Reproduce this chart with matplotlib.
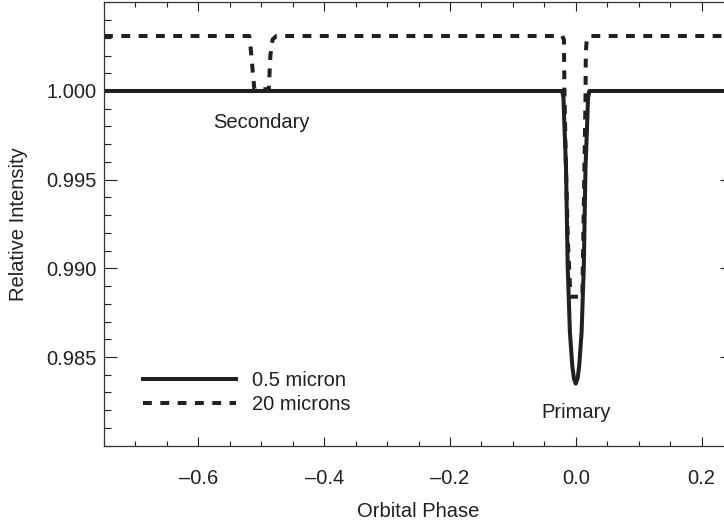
import matplotlib
matplotlib.use("Agg")
import matplotlib.pyplot as plt
from matplotlib.ticker import MultipleLocator, FormatStrFormatter

plt.rcParams['font.family'] = ['Liberation Sans', 'DejaVu Sans']

# ---- data ----
# 0.5 micron light curve (solid)
phase_05 = [-0.75, -0.0215, -0.0195, -0.0185, -0.0155, -0.0128, -0.0093, -0.0055, -0.0030, 0.0,
            0.0030, 0.0055, 0.0093, 0.0128, 0.0155, 0.0185, 0.0195, 0.0215, 0.25]
inten_05 = [1.0000, 1.0000, 0.9996, 0.9985, 0.9957, 0.9901, 0.9864, 0.9845, 0.9838, 0.9835,
            0.9838, 0.9845, 0.9864, 0.9901, 0.9957, 0.9985, 0.9996, 1.0000, 1.0000]

# 20 micron light curve (dashed)
phase_20 = [-0.75, -0.519, -0.5178, -0.511, -0.488, -0.4855, -0.482, -0.476,
            -0.0215, -0.0188, -0.0180, -0.0158, -0.0125, -0.0092, -0.0085,
            0.0105, 0.0112, 0.0135, 0.0155, 0.0160, 0.0175, 0.021, 0.25]
inten_20 = [1.0031, 1.0031, 1.0028, 1.0001, 1.0001, 1.0020, 1.0029, 1.0031,
            1.0031, 1.0029, 1.0000, 0.9960, 0.9915, 0.9890, 0.9884,
            0.9884, 0.9900, 0.9950, 0.9995, 1.0022, 1.0029, 1.0031, 1.0031]

labels = ["0.5 micron", "20 microns"]
x_ticks = [-0.6, -0.4, -0.2, 0.0, 0.2]
y_ticks = [0.985, 0.990, 0.995, 1.000]
annot_text = ["Secondary", "Primary"]
annot_x = [-0.5, 0.0]
annot_y = [0.99825, 0.98185]

ink = "#231f20"
fs = 14.5

fig = plt.figure(figsize=(7.24, 5.26), dpi=100)
ax = fig.add_axes([104 / 724, 1 - 445.7 / 526, 629 / 724, 443.4 / 526])

ax.plot(phase_05, inten_05, color=ink, lw=2.9, solid_joinstyle='round',
        label=labels[0])
ax.plot(phase_20, inten_20, color=ink, lw=2.9, linestyle=(0, (2.2, 2.1)),
        dash_capstyle='butt', label=labels[1])

ax.set_xlim(-0.75, 0.25)
ax.set_ylim(0.980, 1.005)
ax.set_xticks(x_ticks)
ax.set_yticks(y_ticks)
ax.xaxis.set_minor_locator(MultipleLocator(0.05))
ax.yaxis.set_minor_locator(MultipleLocator(0.001))
ax.yaxis.set_major_formatter(FormatStrFormatter('%.3f'))
ax.set_xticklabels([("\u2013" + f"{abs(v):.1f}") if v < 0 else f"{v:.1f}" for v in x_ticks])

ax.tick_params(axis='x', which='major', direction='in', length=6.5, width=0.8,
               top=True, pad=17, labelsize=fs, colors=ink)
ax.tick_params(axis='x', which='minor', direction='in', length=3.3, width=0.8, top=True,
               colors=ink)
ax.tick_params(axis='y', which='major', direction='in', length=9.4, width=0.8,
               right=True, pad=5.3, labelsize=fs, colors=ink)
ax.tick_params(axis='y', which='minor', direction='in', length=5, width=0.8, right=True,
               colors=ink)
for s in ax.spines.values():
    s.set_linewidth(0.9)
    s.set_color("#333333")

ax.set_xlabel("Orbital Phase", fontsize=fs, color=ink, labelpad=10)
ax.set_ylabel("Relative Intensity", fontsize=fs, color=ink, labelpad=13)

for t, x, y in zip(annot_text, annot_x, annot_y):
    ax.text(x, y, t, ha='center', va='center', fontsize=fs, color=ink)

leg = ax.legend(loc='upper left', bbox_to_anchor=(0.062, 0.168), frameon=False,
                fontsize=fs, handlelength=4.6, handletextpad=0.8, labelspacing=0.22,
                borderpad=0, borderaxespad=0)
for txt in leg.get_texts():
    txt.set_color(ink)

fig.savefig("out.png", dpi=100)
